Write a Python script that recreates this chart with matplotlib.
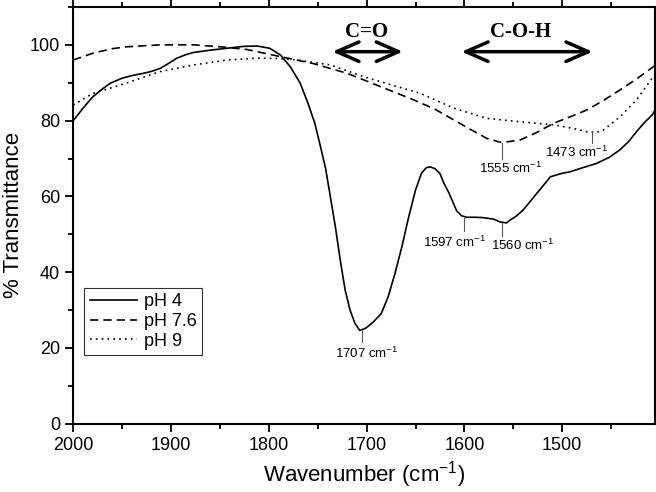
import matplotlib
matplotlib.use("Agg")
from matplotlib import pyplot as plt
from matplotlib.ticker import MultipleLocator

plt.rcParams['font.family'] = ['Liberation Sans', 'DejaVu Sans']
plt.rcParams['mathtext.fontset'] = 'custom'
plt.rcParams['mathtext.rm'] = 'Liberation Sans'

# pH 4 (solid)
ph4_x = [2000, 1990, 1980, 1970, 1962, 1950, 1940, 1928, 1920, 1911, 1900, 1894, 1885, 1877,
         1860, 1843, 1826, 1812, 1799, 1788, 1778, 1768, 1760, 1753, 1748, 1742, 1736,
         1732, 1727, 1722, 1717, 1712, 1707, 1701, 1693, 1685, 1678, 1671, 1664, 1657, 1650,
         1644, 1639, 1635, 1630, 1625, 1621, 1616, 1608, 1603, 1598, 1590, 1581, 1570, 1564,
         1557, 1553, 1547, 1540, 1526, 1512, 1500, 1492, 1480, 1465, 1452, 1441, 1432, 1424,
         1416, 1408, 1405]
ph4_y = [80.0, 83.3, 86.3, 88.4, 89.9, 91.2, 91.9, 92.5, 93.0, 93.8, 95.5, 96.5, 97.4, 98.0,
         98.6, 99.1, 99.6, 99.7, 99.1, 97.3, 94.2, 89.9, 84.6, 79.3, 74.0, 67.4, 58.2,
         52.0, 43.2, 35.3, 30.0, 26.5, 24.6, 25.2, 26.9, 29.1, 33.5, 39.7, 46.7, 54.6, 61.7,
         66.1, 67.6, 67.8, 67.3, 66.0, 63.5, 61.0, 56.2, 54.9, 54.5, 54.5, 54.4, 54.0, 53.3,
         53.0, 53.8, 54.8, 56.4, 60.8, 65.2, 66.1, 66.5, 67.5, 68.7, 70.3, 72.3, 74.5, 77.1,
         79.5, 81.5, 82.8]

# pH 7.6 (dashed)
ph76_x = [2000, 1980, 1960, 1945, 1911, 1877, 1850, 1823, 1790, 1755, 1720, 1686, 1652, 1630,
          1611, 1594, 1577, 1562, 1543, 1525, 1509, 1490, 1475, 1458, 1441, 1424, 1407, 1405]
ph76_y = [96.0, 97.8, 99.0, 99.5, 100.0, 100.0, 99.5, 98.8, 97.0, 95.1, 92.5, 89.0, 85.5, 83.0,
          80.2, 77.7, 75.3, 74.2, 74.9, 77.0, 79.3, 81.2, 82.8, 85.3, 88.1, 91.0, 94.2, 94.6]

# pH 9 (dotted)
ph9_x = [2000, 1980, 1963, 1946, 1912, 1877, 1843, 1812, 1790, 1771, 1737, 1703, 1669, 1645,
         1611, 1577, 1543, 1509, 1490, 1475, 1465, 1458, 1441, 1424, 1407, 1405]
ph9_y = [84.1, 87.2, 88.5, 89.9, 92.9, 94.7, 96.0, 96.5, 96.4, 96.0, 94.7, 91.6, 89.0, 87.2,
         83.3, 80.6, 79.7, 78.9, 78.0, 77.1, 76.9, 77.5, 81.0, 85.5, 91.6, 92.3]

# peak labels: text, marker x, marker y-top, y-bottom, text x, text y
peak_text = ["1707 cm$^{-1}$", "1555 cm$^{-1}$", "1473 cm$^{-1}$", "1597 cm$^{-1}$", "1560 cm$^{-1}$"]
peak_x = [1705, 1562, 1470, 1600, 1562]
peak_top = [24.5, 74.2, 77.0, 54.3, 53.0]
peak_bot = [21.5, 70.0, 74.0, 51.0, 49.5]
peak_tx = [1700, 1553, 1485, 1610, 1541]
peak_ty = [18.5, 67.5, 71.5, 47.8, 47.0]

fig = plt.figure(figsize=(6.56, 4.92), dpi=100)
ax = fig.add_axes([0.1117, 0.1388, 0.887, 0.847])

ax.plot(ph4_x, ph4_y, color='black', lw=1.2, ls='-', label='pH 4')
ax.plot(ph76_x, ph76_y, color='black', lw=1.2, ls=(0, (5, 3)), label='pH 7.6')
ax.plot(ph9_x, ph9_y, color='black', lw=1.2, ls=(0, (1, 2.5)), label='pH 9')

for t, x, y1, y2, tx, ty in zip(peak_text, peak_x, peak_top, peak_bot, peak_tx, peak_ty):
    ax.plot([x, x], [y1, y2], color='0.35', lw=0.8)
    ax.text(tx, ty, t, fontsize=9.5, ha='center', va='center')

ax.text(1700, 103.4, "C=O", family='Liberation Serif', fontweight='bold', fontsize=15,
        ha='center', va='center')
ax.annotate('', xy=(1663, 98.2), xytext=(1735, 98.2),
            arrowprops=dict(arrowstyle='<->,head_length=0.8,head_width=0.35', lw=2.5,
                            color='black', mutation_scale=20, shrinkA=0, shrinkB=0))
ax.text(1543, 103.4, "C-O-H", family='Liberation Serif', fontweight='bold', fontsize=15,
        ha='center', va='center')
ax.annotate('', xy=(1469, 98.2), xytext=(1603, 98.2),
            arrowprops=dict(arrowstyle='<->,head_length=0.8,head_width=0.35', lw=2.5,
                            color='black', mutation_scale=20, shrinkA=0, shrinkB=0))

ax.set_xlim(2000, 1405)
ax.set_ylim(0, 110)
ax.xaxis.set_major_locator(MultipleLocator(100))
ax.xaxis.set_minor_locator(MultipleLocator(50))
ax.yaxis.set_major_locator(MultipleLocator(20))
ax.yaxis.set_minor_locator(MultipleLocator(10))
ax.set_yticks([0, 20, 40, 60, 80, 100])
ax.tick_params(which='both', direction='out', top=True, labelsize=13, width=1.3)
ax.tick_params(which='major', length=6)
ax.tick_params(which='minor', length=3.5)
for s in ax.spines.values():
    s.set_linewidth(1.5)

ax.set_xlabel("Wavenumber (cm$^{-1}$)", fontsize=16)
ax.set_ylabel("% Transmittance", fontsize=16)

leg = ax.legend(loc='lower left', bbox_to_anchor=(0.019, 0.165), fontsize=13, frameon=True,
                fancybox=False, handlelength=2.6, borderpad=0.3, labelspacing=0.15,
                handletextpad=0.4, borderaxespad=0)
leg.get_frame().set_edgecolor('black')
leg.get_frame().set_linewidth(0.8)

plt.savefig("out.png", dpi=100)
